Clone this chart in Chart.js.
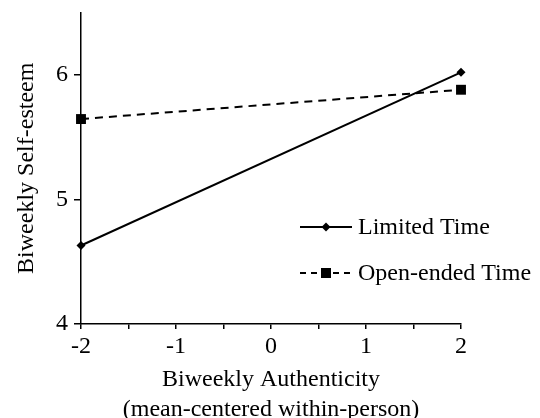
<!DOCTYPE html>
<html>
<head>
    <meta charset="utf-8">
    <title>Biweekly Self-esteem</title>
    <script src="https://cdn.jsdelivr.net/npm/chart.js@4/dist/chart.umd.min.js"></script>
    <style>
        html, body { margin: 0; padding: 0; background: #fff; }
        #quadro { width: 540px; height: 418px; }
    </style>
</head>
<body>
    <div id="quadro"><canvas id="grafico"></canvas></div>
    <script>
        // Dados
        var autenticidade = [-2, 2];
        var tempoLimitado = [4.63, 6.02];
        var tempoAberto = [5.645, 5.88];
        var nomesSeries = ['Limited Time', 'Open-ended Time'];
        var ticksX = [-2, -1.5, -1, -0.5, 0, 0.5, 1, 1.5, 2];
        var ticksY = [4, 5, 6];

        var fonte = "'Liberation Serif', 'Times New Roman', serif";

        function pontos(valores) {
            return autenticidade.map(function (x, i) { return { x: x, y: valores[i] }; });
        }

        // Legenda dentro da area do grafico (linha + marcador)
        var legendaInterna = {
            id: 'legendaInterna',
            afterDatasetsDraw: function (chart) {
                var ctx = chart.ctx;
                var area = chart.chartArea;
                chart.data.datasets.forEach(function (ds, i) {
                    var y = area.top + 214.5 + i * 46;
                    var x0 = area.left + 219;
                    var x1 = x0 + 52;
                    var xm = (x0 + x1) / 2;
                    ctx.save();
                    ctx.strokeStyle = '#000';
                    ctx.fillStyle = '#000';
                    ctx.lineWidth = ds.borderWidth;
                    ctx.setLineDash(i ? [6, 5] : []);
                    ctx.beginPath();
                    ctx.moveTo(x0, y);
                    ctx.lineTo(x1, y);
                    ctx.stroke();
                    ctx.setLineDash([]);
                    ctx.beginPath();
                    if (ds.pointStyle === 'rect') {
                        ctx.rect(xm - 5, y - 5, 10, 10);
                    } else {
                        ctx.moveTo(xm, y - 4.5);
                        ctx.lineTo(xm + 4.5, y);
                        ctx.lineTo(xm, y + 4.5);
                        ctx.lineTo(xm - 4.5, y);
                        ctx.closePath();
                    }
                    ctx.fill();
                    ctx.font = '24px ' + fonte;
                    ctx.textAlign = 'left';
                    ctx.textBaseline = 'middle';
                    ctx.fillText(ds.label, x1 + 6, y + 1);
                    ctx.restore();
                });
            }
        };

        var ctx = document.getElementById('grafico').getContext('2d');
        var grafico = new Chart(ctx, {
            type: 'line',
            data: {
                datasets: [{
                    label: nomesSeries[0],
                    data: pontos(tempoLimitado),
                    borderColor: '#000',
                    backgroundColor: '#000',
                    borderWidth: 2,
                    pointStyle: 'rectRot',
                    pointRadius: 4.5,
                    pointBorderWidth: 0,
                    clip: false
                }, {
                    label: nomesSeries[1],
                    data: pontos(tempoAberto),
                    borderColor: '#000',
                    backgroundColor: '#000',
                    borderWidth: 2,
                    borderDash: [8, 6],
                    pointStyle: 'rect',
                    pointRadius: 7,
                    pointBorderWidth: 0,
                    clip: false
                }]
            },
            options: {
                responsive: true,
                maintainAspectRatio: false,
                animation: false,
                devicePixelRatio: 1,
                layout: { autoPadding: false, padding: { top: 12.5, right: 79, left: 0, bottom: 0 } },
                plugins: {
                    legend: { display: false },
                    tooltip: { enabled: false }
                },
                scales: {
                    x: {
                        type: 'linear',
                        min: -2,
                        max: 2,
                        afterBuildTicks: function (s) {
                            s.ticks = ticksX.map(function (v) { return { value: v }; });
                        },
                        afterFit: function (s) {
                            s.height = 94;
                            s.paddingLeft = 0;
                            s.paddingRight = 0;
                        },
                        ticks: {
                            autoSkip: false,
                            maxRotation: 0,
                            color: '#000',
                            padding: 3,
                            font: { family: fonte, size: 24 },
                            callback: function (v) { return Number.isInteger(v) ? String(v) : ''; }
                        },
                        grid: { drawOnChartArea: false, drawTicks: true, tickLength: 5, color: '#000', lineWidth: 1.5 },
                        border: { display: true, color: '#000', width: 1.5 },
                        title: {
                            display: true,
                            text: ['Biweekly Authenticity', '(mean-centered within-person)'],
                            color: '#000',
                            font: { family: fonte, size: 24, lineHeight: 1.25 },
                            padding: { top: 0, bottom: -7 }
                        }
                    },
                    y: {
                        min: 4,
                        max: 6.5,
                        afterBuildTicks: function (s) {
                            s.ticks = ticksY.map(function (v) { return { value: v }; });
                        },
                        afterFit: function (s) {
                            s.width = 81;
                            s.paddingTop = 0;
                            s.paddingBottom = 0;
                        },
                        ticks: {
                            color: '#000',
                            padding: 6,
                            font: { family: fonte, size: 24 }
                        },
                        grid: { drawOnChartArea: false, drawTicks: true, tickLength: 7, color: '#000', lineWidth: 1.5 },
                        border: { display: true, color: '#000', width: 1.5 },
                        title: {
                            display: true,
                            text: 'Biweekly Self-esteem',
                            color: '#000',
                            font: { family: fonte, size: 24, lineHeight: 1.2 },
                            padding: { top: 12, bottom: 0 }
                        }
                    }
                }
            },
            plugins: [legendaInterna]
        });
    </script>
</body>
</html>
